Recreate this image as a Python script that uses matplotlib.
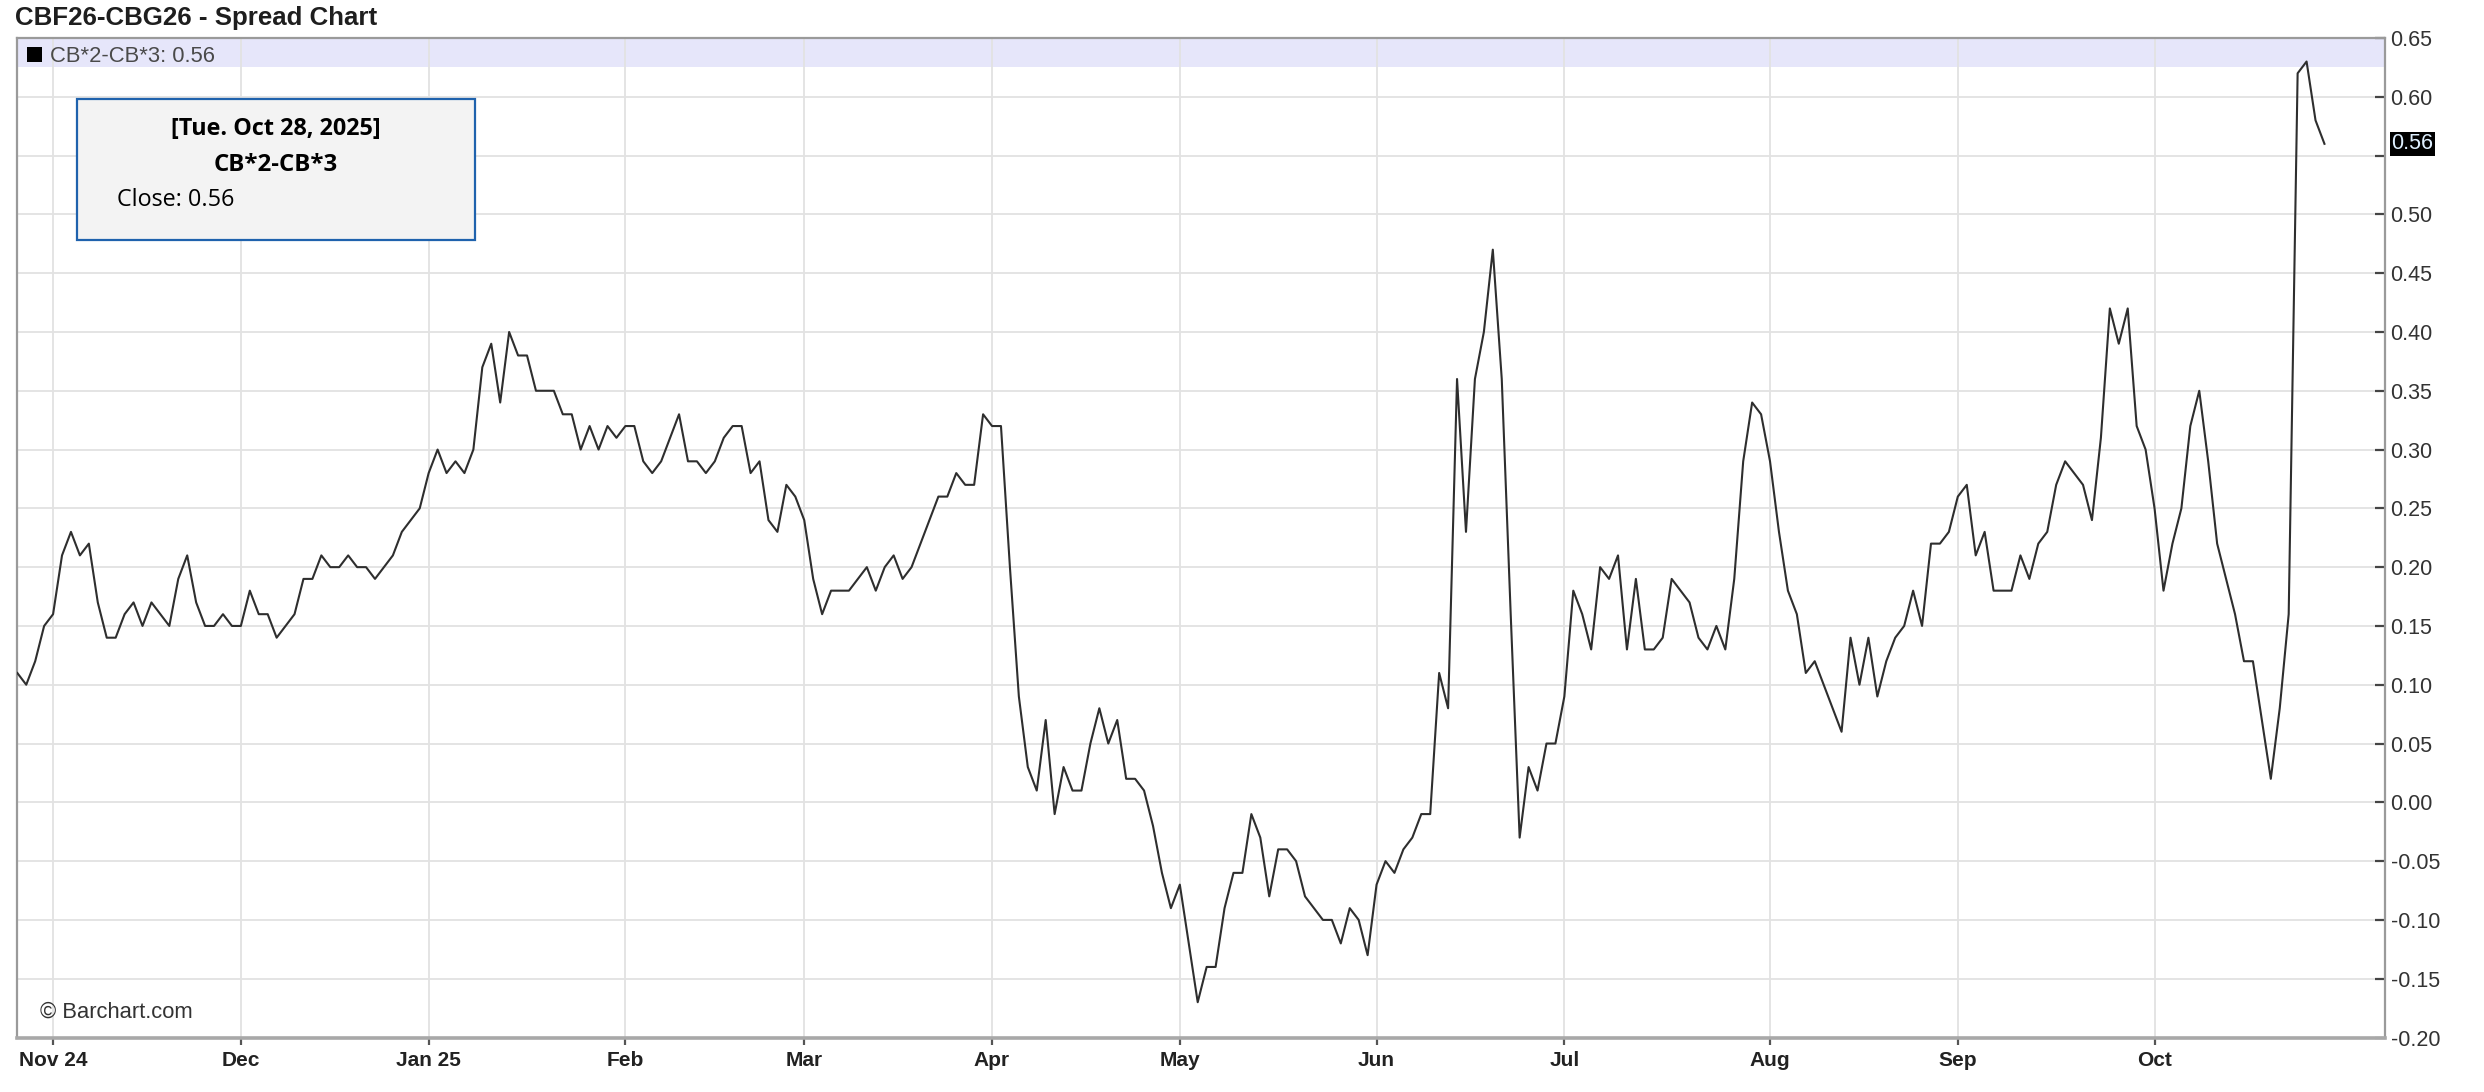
import matplotlib
matplotlib.use("Agg")
import matplotlib.pyplot as plt
import matplotlib.patches as mpatches
import matplotlib.transforms as mtransforms
import numpy as np
import pandas as pd

# ---------------- data ----------------
start_date = "2024-10-28"
end_date = "2025-10-28"
market_closed = ["2024-12-25", "2025-01-01", "2025-04-18"]

oct24 = [0.11, 0.10, 0.12, 0.15]
nov24 = [0.16, 0.21, 0.23, 0.21, 0.22, 0.17, 0.14, 0.14, 0.16, 0.17, 0.15,
         0.17, 0.16, 0.15, 0.19, 0.21, 0.17, 0.15, 0.15, 0.16, 0.15]
dec24 = [0.15, 0.18, 0.16, 0.16, 0.14, 0.15, 0.16, 0.19, 0.19, 0.21, 0.20,
         0.20, 0.21, 0.20, 0.20, 0.19, 0.20, 0.21, 0.23, 0.24, 0.25]
jan25 = [0.28, 0.30, 0.28, 0.29, 0.28, 0.30, 0.37, 0.39, 0.34, 0.40, 0.38,
         0.38, 0.35, 0.35, 0.35, 0.33, 0.33, 0.30, 0.32, 0.30, 0.32, 0.31]
feb25 = [0.32, 0.32, 0.29, 0.28, 0.29, 0.31, 0.33, 0.29, 0.29, 0.28, 0.29,
         0.31, 0.32, 0.32, 0.28, 0.29, 0.24, 0.23, 0.27, 0.26]
mar25 = [0.24, 0.19, 0.16, 0.18, 0.18, 0.18, 0.19, 0.20, 0.18, 0.20, 0.21,
         0.19, 0.20, 0.22, 0.24, 0.26, 0.26, 0.28, 0.27, 0.27, 0.33]
apr25 = [0.32, 0.32, 0.20, 0.09, 0.03, 0.01, 0.07, -0.01, 0.03, 0.01, 0.01,
         0.05, 0.08, 0.05, 0.07, 0.02, 0.02, 0.01, -0.02, -0.06, -0.09]
may25 = [-0.07, -0.12, -0.17, -0.14, -0.14, -0.09, -0.06, -0.06, -0.01, -0.03,
         -0.08, -0.04, -0.04, -0.05, -0.08, -0.09, -0.10, -0.10, -0.12, -0.09,
         -0.10, -0.13]
jun25 = [-0.07, -0.05, -0.06, -0.04, -0.03, -0.01, -0.01, 0.11, 0.08, 0.36,
         0.23, 0.36, 0.40, 0.47, 0.36, 0.16, -0.03, 0.03, 0.01, 0.05, 0.05]
jul25 = [0.09, 0.18, 0.16, 0.13, 0.20, 0.19, 0.21, 0.13, 0.19, 0.13, 0.13,
         0.14, 0.19, 0.18, 0.17, 0.14, 0.13, 0.15, 0.13, 0.19, 0.29, 0.34, 0.33]
aug25 = [0.29, 0.23, 0.18, 0.16, 0.11, 0.12, 0.10, 0.08, 0.06, 0.14, 0.10,
         0.14, 0.09, 0.12, 0.14, 0.15, 0.18, 0.15, 0.22, 0.22, 0.23]
sep25 = [0.26, 0.27, 0.21, 0.23, 0.18, 0.18, 0.18, 0.21, 0.19, 0.22, 0.23,
         0.27, 0.29, 0.28, 0.27, 0.24, 0.31, 0.42, 0.39, 0.42, 0.32, 0.30]
oct25 = [0.25, 0.18, 0.22, 0.25, 0.32, 0.35, 0.29, 0.22, 0.19, 0.16, 0.12,
         0.12, 0.07, 0.02, 0.08, 0.16, 0.62, 0.63, 0.58, 0.56]

month_labels = ["Nov 24", "Dec", "Jan 25", "Feb", "Mar", "Apr", "May",
                "Jun", "Jul", "Aug", "Sep", "Oct"]
y_ticks = [-0.20, -0.15, -0.10, -0.05, 0.00, 0.05, 0.10, 0.15, 0.20, 0.25,
           0.30, 0.35, 0.40, 0.45, 0.50, 0.55, 0.60, 0.65]

title_text = "CBF26-CBG26 - Spread Chart"
series_name = "CB*2-CB*3"
tooltip_date = "[Tue. Oct 28, 2025]"
credit_text = "\u00a9 Barchart.com"

# ---------------- build ----------------
values = np.array(oct24 + nov24 + dec24 + jan25 + feb25 + mar25 + apr25 +
                  may25 + jun25 + jul25 + aug25 + sep25 + oct25)
dates = pd.bdate_range(start_date, end_date, freq="C", holidays=market_closed)
n = min(len(dates), len(values))
dates = dates[:n]
values = values[:n]
x = np.arange(n)
last_val = values[-1]

# first bar of each month (skip first partial month)
month_key = dates.year * 12 + dates.month
tick_pos = [i for i in range(1, n) if month_key[i] != month_key[i - 1]]

W, H = 2484, 1092
fig = plt.figure(figsize=(W / 100, H / 100), dpi=100)
fig.patch.set_facecolor("white")
ax = fig.add_axes([16.5 / W, (H - 1037.5) / H, 2368.5 / W, 999.5 / H])

ax.axhspan(0.625, 0.65, color="#e6e6fa", zorder=0.3, lw=0)
ax.plot(x, values, color="#2e2e2e", lw=1.5, zorder=3)

ax.set_xlim(-0.09, (n - 1) + 6.77)
ax.set_ylim(-0.20, 0.65)

ax.set_yticks(y_ticks)
ax.set_yticklabels(["" if abs(v - 0.55) < 1e-9 else f"{v:.2f}" for v in y_ticks])
ax.yaxis.tick_right()
ax.tick_params(axis="y", direction="in", length=7, width=1.6, color="#444444",
               labelsize=15.5, labelcolor="#333333", pad=4)
for lab in ax.get_yticklabels():
    lab.set_family(["Liberation Sans", "DejaVu Sans"])

ax.set_xticks(tick_pos)
ax.set_xticklabels(month_labels[:len(tick_pos)])
ax.tick_params(axis="x", direction="out", length=5, width=1.6, color="#555555",
               labelsize=15, labelcolor="#222222", pad=5)
for lab in ax.get_xticklabels():
    lab.set_family(["Liberation Sans Narrow", "Liberation Sans", "DejaVu Sans"])
    lab.set_fontweight("bold")

ax.grid(True, color="#e2e2e2", lw=1.3, zorder=0.5)
ax.set_axisbelow(True)
for side, sp in ax.spines.items():
    sp.set_color("#9a9a9a")
    sp.set_linewidth(1.6)
ax.spines["bottom"].set_linewidth(2.6)
ax.spines["bottom"].set_color("#a8a8a8")

# legend band text
fig.add_artist(mpatches.Rectangle((26.7 / W, 1 - 61.7 / H), 15 / W, 15 / H,
                                  transform=fig.transFigure, facecolor="black",
                                  edgecolor="none", zorder=6))
fig.text(50 / W, 1 - 61.7 / H, f"{series_name}: {last_val:.2f}",
         fontsize=15.8, color="#4a4a4a", family=["Liberation Sans", "DejaVu Sans"],
         va="baseline", ha="left", zorder=6)

# last value box
trans = mtransforms.blended_transform_factory(ax.transAxes, ax.transData)
ax.text(1 + 6.5 / 2368.5, last_val, f"{last_val:.2f}", transform=trans,
        fontsize=15.5, color="#dff0ff", family=["Liberation Sans", "DejaVu Sans"],
        va="center", ha="left", zorder=7, clip_on=False,
        bbox=dict(boxstyle="square,pad=0.08", facecolor="black", edgecolor="none"))

# title
fig.text(15 / W, 1 - 25 / H, title_text, fontsize=18.6, fontweight="bold",
         color="#1e1e1e", family=["Liberation Sans", "DejaVu Sans"],
         va="baseline", ha="left")

# tooltip box
fig.add_artist(mpatches.Rectangle((76.7 / W, 1 - 240 / H), 398.3 / W, 141 / H,
                                  transform=fig.transFigure, facecolor="#f3f3f3",
                                  edgecolor="#1f62ad", lw=1.6, zorder=8))
cx = (76.7 + 398.3 / 2) / W
fig.text(cx, 1 - 135 / H, tooltip_date, fontsize=16.8, fontweight="bold",
         family=["Open Sans", "DejaVu Sans"], color="black",
         ha="center", va="baseline", zorder=9)
fig.text(cx, 1 - 170.7 / H, series_name, fontsize=17.3, fontweight="bold",
         family=["Open Sans", "DejaVu Sans"], color="black",
         ha="center", va="baseline", zorder=9)
fig.text(117.3 / W, 1 - 206 / H, f"Close: {last_val:.2f}", fontsize=16.8,
         family=["Open Sans", "DejaVu Sans"], color="black",
         ha="left", va="baseline", zorder=9)

# credit
fig.text(39.6 / W, 1 - 1018 / H, credit_text, fontsize=15.8, color="#333333",
         family=["Liberation Sans Narrow", "Liberation Sans", "DejaVu Sans"],
         ha="left", va="baseline")

fig.savefig("out.png", dpi=100, facecolor="white")
